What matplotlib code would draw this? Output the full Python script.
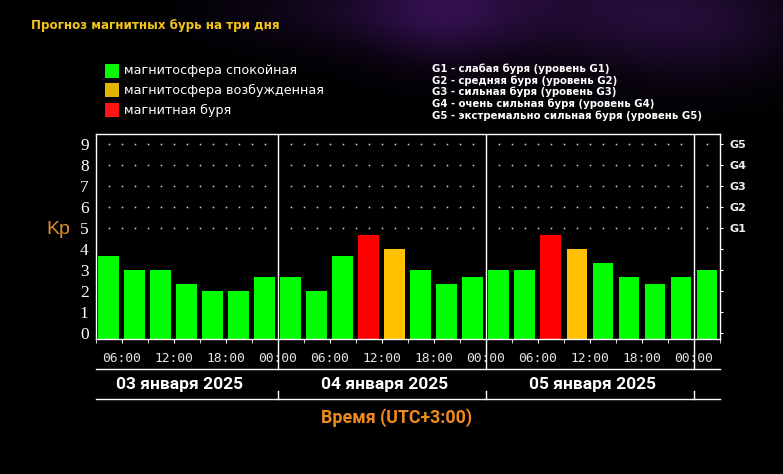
import numpy as np
import matplotlib
matplotlib.use("Agg")
import matplotlib.pyplot as plt
import matplotlib.transforms as mtransforms
from matplotlib.patches import Rectangle

# ---------------- data ----------------
bar_start_hours = [3, 6, 9, 12, 15, 18, 21,
                   24, 27, 30, 33, 36, 39, 42, 45,
                   48, 51, 54, 57, 60, 63, 66, 69,
                   72]
kp_values = [3.67, 3.0, 3.0, 2.33, 2.0, 2.0, 2.67,
             2.67, 2.0, 3.67, 4.67, 4.0, 3.0, 2.33, 2.67,
             3.0, 3.0, 4.67, 4.0, 3.33, 2.67, 2.33, 2.67,
             3.0]
day_labels = ["03 января 2025", "04 января 2025", "05 января 2025"]
day_label_hours = [12.7, 36.3, 60.3]
day_boundaries = [24, 48, 72]
g_levels = ["G1", "G2", "G3", "G4", "G5"]
g_descriptions = [
    "G1 - слабая буря (уровень G1)",
    "G2 - средняя буря (уровень G2)",
    "G3 - сильная буря (уровень G3)",
    "G4 - очень сильная буря (уровень G4)",
    "G5 - экстремально сильная буря (уровень G5)",
]
legend_labels = ["магнитосфера спокойная", "магнитосфера возбужденная", "магнитная буря"]
legend_colors = ["#08f808", "#e0b400", "#ff1414"]
title = "Прогноз магнитных бурь на три дня"
xlabel = "Время (UTC+3:00)"

GREEN, YELLOW, RED = "#00ff00", "#ffc000", "#ff0000"


def kp_color(v):
    if v >= 4.5:
        return RED
    if v >= 4.0:
        return YELLOW
    return GREEN


W, H = 783, 474
fig = plt.figure(figsize=(W / 100, H / 100), dpi=100, facecolor="black")


def fx(x):
    return x / W


def fy(y):
    return 1 - y / H


# ---------------- background glow ----------------
bg = fig.add_axes([0, 0, 1, 1], zorder=0)
yy, xx = np.mgrid[0:H, 0:W]
img = np.zeros((H, W, 3))
blobs = [((560, 5), (140, 40), (0.12, 0.04, 0.18)),
         ((440, 10), (50, 35), (0.10, 0.03, 0.16)),
         ((700, 30), (70, 40), (0.07, 0.03, 0.11)),
         ((330, 10), (80, 25), (0.05, 0.02, 0.08))]
for (cx, cy), (sx, sy), col in blobs:
    g = np.exp(-(((xx - cx) / sx) ** 2 + ((yy - cy) / sy) ** 2) / 2)
    for k in range(3):
        img[..., k] += col[k] * g
img = np.clip(img, 0, 1)
bg.imshow(img, extent=[0, 1, 0, 1], aspect="auto", origin="upper")
bg.set_xlim(0, 1)
bg.set_ylim(0, 1)
bg.axis("off")

# ---------------- main axes ----------------
L, R, T, B = 95.6, 720, 134.3, 339.3
ax = fig.add_axes([fx(L), fy(B), (R - L) / W, (B - T) / H], zorder=2)
ax.set_facecolor("black")
ax.set_xlim(3, 75)
ax.set_ylim(-0.31, 9.46)

centers = [h + 1.5 for h in bar_start_hours]
colors = [kp_color(v) for v in kp_values]
ax.bar(centers, [v + 0.31 for v in kp_values], width=2.4, bottom=-0.31,
       color=colors, zorder=2)

# dotted grid at G levels
dot_x = np.arange(4.5, 75, 1.5)
dot_x = dot_x[~np.isin(dot_x, day_boundaries)]
for lvl in range(5, 10):
    ax.plot(dot_x, np.full_like(dot_x, lvl), ls="none", marker="s", ms=1.1,
            mew=0, color="#d8d8d8", zorder=1)

for b in day_boundaries:
    ax.axvline(b, color="white", lw=1, zorder=3)

for s in ax.spines.values():
    s.set_color("white")
    s.set_linewidth(1)

ax.set_yticks(range(10))
ax.set_yticklabels([str(i) for i in range(10)], family="Liberation Serif",
                   fontsize=12.5, color="white")
ax.tick_params(axis="y", length=0, pad=5)

major = np.arange(6, 75, 6)
minor = np.arange(3, 76, 3)
ax.set_xticks(major)
ax.set_xticklabels(["%02d:00" % (h % 24) for h in major], family="DejaVu Sans Mono",
                   fontsize=9.3, color="#e6e6e6")
ax.set_xticks(minor, minor=True)
ax.tick_params(axis="x", which="both", length=3, color="white", direction="out", pad=6)

# right G axis
ax2 = ax.twinx()
ax2.set_ylim(ax.get_ylim())
ax2.set_yticks(range(10))
ax2.set_yticklabels([""] * 5 + g_levels, fontsize=8, fontweight="bold",
                    family="DejaVu Sans", color="#f0f0f0")
ax2.tick_params(axis="y", length=2.5, color="white", pad=4)
for s in ax2.spines.values():
    s.set_visible(False)

# ---------------- date band ----------------
tr = mtransforms.blended_transform_factory(ax.transData, fig.transFigure)
for yline in (369, 399):
    ax.plot([3, 75], [fy(yline), fy(yline)], color="white", lw=1, transform=tr,
            clip_on=False, zorder=3)
for b in day_boundaries:
    ax.plot([b, b], [fy(B), fy(369)], color="white", lw=1, transform=tr, clip_on=False, zorder=1)
    ax.plot([b, b], [fy(391), fy(399)], color="white", lw=1, transform=tr, clip_on=False)
for lbl, h in zip(day_labels, day_label_hours):
    ax.text(h, fy(384), lbl, transform=tr, ha="center", va="center", color="white",
            fontsize=12.5, fontweight="bold", family="Roboto")

fig.text(fx(397), fy(418), xlabel, ha="center", va="center", color="#f08a1c",
         fontsize=12.8, fontweight="bold", family="Roboto")

fig.text(fx(58), fy(229), "Kp", ha="center", va="center", color="#e08c28",
         fontsize=14, family="Liberation Sans")

# ---------------- title & legends ----------------
fig.text(fx(31), fy(25), title, ha="left", va="center", color="#f2c41c",
         fontsize=8.6, fontweight="bold", family="DejaVu Sans")

for i, (lbl, col) in enumerate(zip(legend_labels, legend_colors)):
    yc = 70.5 + i * 19.8
    fig.patches.append(Rectangle((fx(105), fy(yc + 7)), 14 / W, 14 / H,
                                 transform=fig.transFigure, facecolor=col, edgecolor="none"))
    fig.text(fx(124), fy(yc), lbl, ha="left", va="center", color="white",
             fontsize=9.2, family="DejaVu Sans")

for i, d in enumerate(g_descriptions):
    fig.text(fx(432), fy(68.5 + i * 11.8), d, ha="left", va="center", color="white",
             fontsize=7.25, fontweight="bold", family="DejaVu Sans")

fig.savefig("out.png", dpi=100, facecolor="black")
